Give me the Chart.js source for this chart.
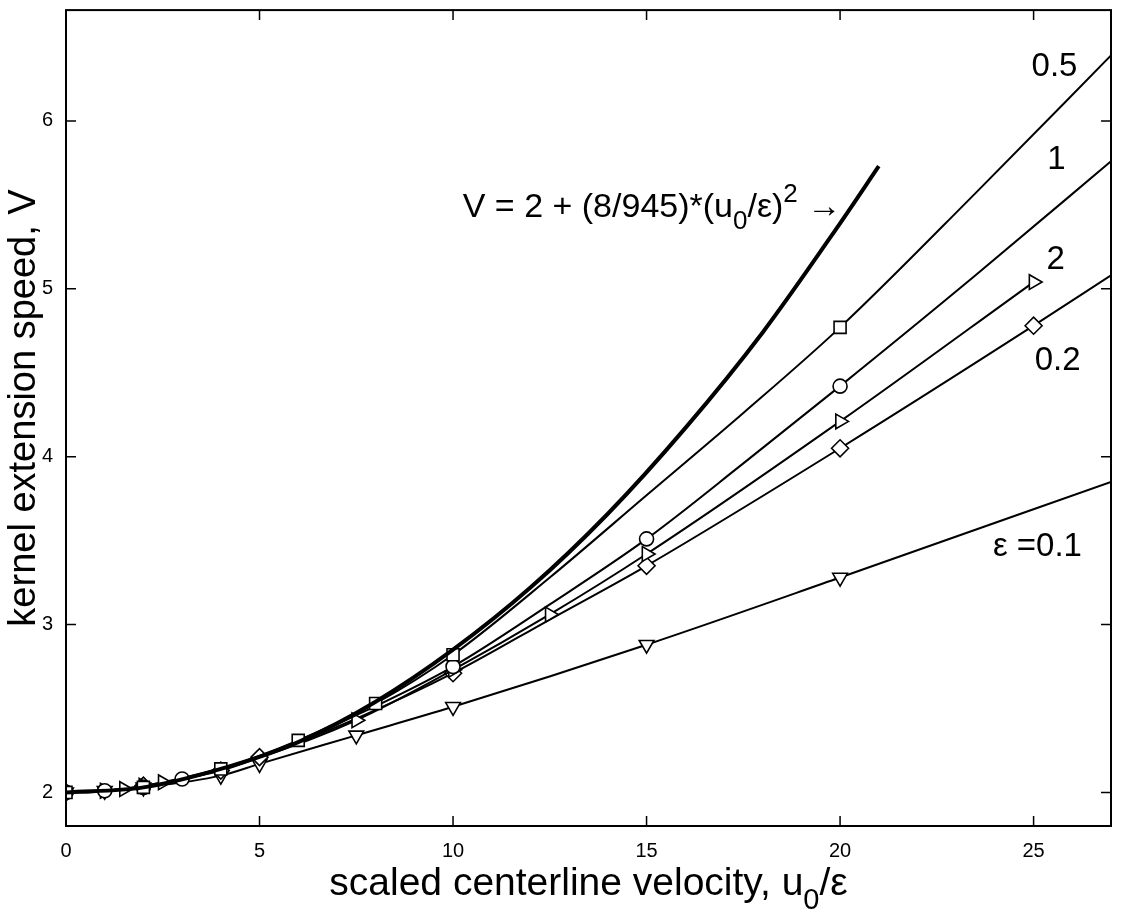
<!DOCTYPE html>
<html>
<head>
<meta charset="utf-8">
<script src="https://cdn.jsdelivr.net/npm/chart.js@4.4.1/dist/chart.umd.min.js"></script>
<style>
    body { margin: 0; background: #fff; }
    #wrap { width: 1122px; height: 916px; }
</style>
</head>
<body>
<div id="wrap"><canvas id="speedChart" width="1122" height="916"></canvas></div>
<script>
// axis ticks
const xTicks = [0, 5, 10, 15, 20, 25];
const yTicks = [2, 3, 4, 5, 6];

// V = 2 + (8/945)(u0/eps)^2
const xParab = [0, 2, 4, 6, 8, 10, 12, 14, 16, 18, 20, 21];
const vParab = [2.00, 2.03, 2.14, 2.30, 2.54, 2.85, 3.22, 3.66, 4.17, 4.74, 5.39, 5.73];

// eps = 0.5 (squares)
const x05 = [0, 2, 4, 6, 8, 10, 12.5, 15, 17.5, 20, 23.5, 27];
const v05 = [2.00, 2.03, 2.14, 2.31, 2.53, 2.82, 3.28, 3.77, 4.26, 4.77, 5.57, 6.39];
const marks05 = [0, 2, 4, 6, 8, 10, 20];

// eps = 1 (circles)
const x1 = [0, 1, 2, 3, 5, 7.5, 10, 12.5, 15, 17.5, 20, 23.5, 27];
const v1 = [2.00, 2.01, 2.03, 2.08, 2.21, 2.46, 2.75, 3.12, 3.51, 3.96, 4.42, 5.08, 5.76];
const marks1 = [0, 1, 2, 3, 10, 15, 20];

// eps = 2 (right triangles)
const x2 = [0, 0.5, 1, 1.5, 2, 2.5, 5, 7.5, 10, 12.5, 15, 20, 25];
const v2 = [2.00, 2.00, 2.01, 2.02, 2.04, 2.06, 2.21, 2.43, 2.73, 3.06, 3.42, 4.21, 5.04];
const marks2 = [0, 1, 1.5, 2, 2.5, 7.5, 10, 12.5, 15, 20, 25];

// eps = 0.2 (diamonds)
const x02 = [0, 1, 2, 4, 5, 7.5, 10, 12.5, 15, 20, 25, 27];
const v02 = [2.00, 2.01, 2.04, 2.13, 2.21, 2.44, 2.71, 3.03, 3.35, 4.05, 4.78, 5.08];
const marks02 = [0, 2, 4, 5, 10, 15, 20, 25];

// eps = 0.1 (down triangles)
const x01 = [0, 1, 2, 4, 5, 7.5, 10, 15, 20, 27];
const v01 = [2.00, 2.01, 2.03, 2.10, 2.17, 2.34, 2.51, 2.88, 3.28, 3.85];
const marks01 = [0, 1, 2, 4, 5, 7.5, 10, 15, 20];

const FONT = '"Liberation Sans", Arial, Helvetica, sans-serif';

function makeSeries(xs, vs, marks, style, rotation, radius) {
    return {
        data: xs.map((x, i) => ({ x: x, y: vs[i] })),
        showLine: true,
        borderColor: '#000',
        borderWidth: 2,
        cubicInterpolationMode: 'monotone',
        pointStyle: style,
        rotation: rotation,
        pointRadius: ctx => (marks.includes(ctx.raw.x) ? radius : 0),
        pointBackgroundColor: '#fff',
        pointBorderColor: '#000',
        pointBorderWidth: 1.6
    };
}

// draws text pieces with sub/superscripts starting at x, baseline y
function drawRich(ctx, parts, x, y) {
    parts.forEach(p => {
        ctx.font = p.size + 'px ' + FONT;
        ctx.fillText(p.t, x, y + (p.dy || 0));
        x += ctx.measureText(p.t).width;
    });
}

const frameAndText = {
    id: 'frameAndText',
    afterDraw(chart) {
        const ctx = chart.ctx;
        const a = chart.chartArea;
        const xs = chart.scales.x;
        const ys = chart.scales.y;
        ctx.save();
        ctx.strokeStyle = '#000';
        ctx.fillStyle = '#000';

        // box
        ctx.lineWidth = 2;
        ctx.strokeRect(a.left, a.top, a.right - a.left, a.bottom - a.top);

        // inward ticks on all four sides
        ctx.lineWidth = 1.5;
        ctx.beginPath();
        xTicks.forEach(v => {
            const px = xs.getPixelForValue(v);
            ctx.moveTo(px, a.bottom); ctx.lineTo(px, a.bottom - 10);
            ctx.moveTo(px, a.top); ctx.lineTo(px, a.top + 10);
        });
        yTicks.forEach(v => {
            const py = ys.getPixelForValue(v);
            ctx.moveTo(a.left, py); ctx.lineTo(a.left + 10, py);
            ctx.moveTo(a.right, py); ctx.lineTo(a.right - 10, py);
        });
        ctx.stroke();

        ctx.textBaseline = 'alphabetic';
        ctx.textAlign = 'left';

        // x axis title
        const xt = [
            { t: 'scaled centerline velocity, u', size: 39 },
            { t: '0', size: 29, dy: 14 },
            { t: '/ε', size: 39 }
        ];
        let w = 0;
        xt.forEach(p => { ctx.font = p.size + 'px ' + FONT; w += ctx.measureText(p.t).width; });
        drawRich(ctx, xt, (a.left + a.right) / 2 - w / 2, 895);

        // y axis title
        ctx.save();
        ctx.translate(35, 408);
        ctx.rotate(-Math.PI / 2);
        ctx.textAlign = 'center';
        ctx.font = '38px ' + FONT;
        ctx.fillText('kernel extension speed, V', 0, 0);
        ctx.restore();

        // curve labels
        ctx.textAlign = 'center';
        ctx.textBaseline = 'middle';
        ctx.font = '33px ' + FONT;
        [['0.5', 25.54, 6.32], ['1', 25.59, 5.77], ['2', 25.57, 5.17], ['0.2', 25.62, 4.57], ['ε =0.1', 25.10, 3.46]]
            .forEach(l => ctx.fillText(l[0], xs.getPixelForValue(l[1]), ys.getPixelForValue(l[2])));

        // formula label
        ctx.textAlign = 'left';
        ctx.textBaseline = 'alphabetic';
        drawRich(ctx, [
            { t: 'V = 2 + (8/945)*(u', size: 34 },
            { t: '0', size: 26, dy: 12 },
            { t: '/ε)', size: 34 },
            { t: '2', size: 26, dy: -15 },
            { t: ' →', size: 34 }
        ], xs.getPixelForValue(10.25), ys.getPixelForValue(5.43));

        ctx.restore();
    }
};

const thick = makeSeries(xParab, vParab, [], 'circle', 0, 0);
thick.borderWidth = 4;

new Chart(document.getElementById('speedChart'), {
    type: 'scatter',
    data: {
        datasets: [
            thick,
            makeSeries(x05, v05, marks05, 'rect', 0, 8.5),
            makeSeries(x1, v1, marks1, 'circle', 0, 7),
            makeSeries(x2, v2, marks2, 'triangle', 90, 8.5),
            makeSeries(x02, v02, marks02, 'rectRot', 0, 8.5),
            makeSeries(x01, v01, marks01, 'triangle', 180, 8.5)
        ]
    },
    options: {
        responsive: false,
        animation: false,
        layout: { padding: { top: 10, right: 11, left: 0, bottom: 0 } },
        plugins: {
            legend: { display: false },
            tooltip: { enabled: false }
        },
        scales: {
            x: {
                type: 'linear',
                min: 0,
                max: 27,
                grid: { display: false, drawTicks: false },
                border: { display: false },
                ticks: { color: '#000', padding: 13, font: { family: FONT, size: 20 } },
                afterBuildTicks: s => { s.ticks = xTicks.map(v => ({ value: v })); },
                afterFit: s => { s.height = 90; s.paddingLeft = 0; s.paddingRight = 0; }
            },
            y: {
                type: 'linear',
                min: 1.8,
                max: 6.66,
                grid: { display: false, drawTicks: false },
                border: { display: false },
                ticks: { color: '#000', padding: 13, font: { family: FONT, size: 20 } },
                afterBuildTicks: s => { s.ticks = yTicks.map(v => ({ value: v })); },
                afterFit: s => { s.width = 66; s.paddingTop = 0; s.paddingBottom = 0; }
            }
        }
    },
    plugins: [frameAndText]
});
</script>
</body>
</html>
